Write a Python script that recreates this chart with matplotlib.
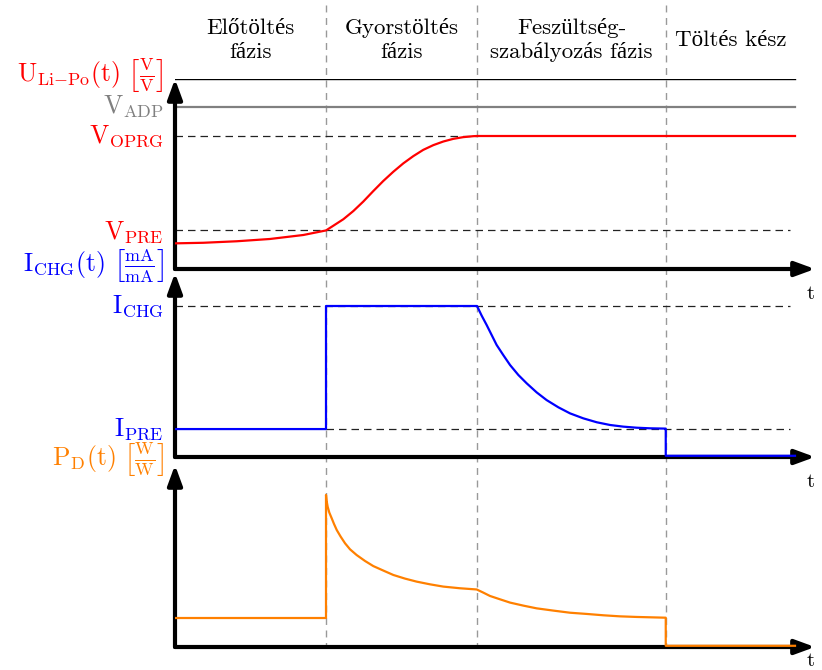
import matplotlib.pyplot as plt

plt.rcParams['mathtext.fontset'] = 'cm'
plt.rcParams['font.family'] = ['cmr10', 'Liberation Serif']

# time axis: phase boundaries and end of the traces
phase_bounds = [1.0, 2.0, 3.25]
t_end = 4.106
t_dash_end = 4.07
t_arrow = 4.238
phase_titles = ['Előtöltés\nfázis', 'Gyorstöltés\nfázis',
                'Feszültség-\nszabályozás fázis', 'Töltés kész']
phase_title_x = [0.5, 1.5, 2.625, 3.68]

# voltage panel (relative to top line)
u_top = 1.0
v_adp = 0.853
v_oprg = 0.700
v_pre = 0.203
u_t = [0.0, 0.187, 0.409, 0.629, 0.850, 1.0, 1.049, 1.115, 1.181, 1.247,
       1.313, 1.379, 1.446, 1.512, 1.578, 1.644, 1.711, 1.777, 1.843, 1.909,
       1.975, 2.0, 4.106]
u_v = [0.135, 0.138, 0.146, 0.158, 0.179, 0.203, 0.228, 0.262, 0.305, 0.355,
       0.410, 0.463, 0.512, 0.556, 0.594, 0.627, 0.652, 0.671, 0.685, 0.694,
       0.699, 0.700, 0.700]

# current panel (relative to I_CHG)
i_chg = 1.0
i_pre = 0.185
i_t = [0.0, 1.0, 1.0, 2.0, 2.002, 2.031, 2.064, 2.097, 2.130, 2.174, 2.219,
       2.274, 2.329, 2.395, 2.461, 2.539, 2.616, 2.704, 2.793, 2.881, 2.969,
       3.057, 3.146, 3.25, 3.25, 4.106]
i_v = [0.185, 0.185, 1.0, 1.0, 0.996, 0.936, 0.874, 0.808, 0.742, 0.675,
       0.609, 0.543, 0.488, 0.428, 0.377, 0.329, 0.289, 0.256, 0.230, 0.212,
       0.201, 0.194, 0.190, 0.188, 0.008, 0.008]

# power dissipation panel
p_t = [0.0, 1.0, 1.0, 1.004, 1.011, 1.022, 1.038, 1.053, 1.071, 1.097, 1.126,
       1.159, 1.203, 1.258, 1.313, 1.380, 1.446, 1.523, 1.600, 1.689, 1.777,
       1.887, 1.998, 2.042, 2.086, 2.152, 2.219, 2.307, 2.395, 2.506, 2.616,
       2.726, 2.837, 2.947, 3.057, 3.25, 3.25, 4.106]
p_v = [0.192, 0.192, 1.007, 0.969, 0.929, 0.890, 0.852, 0.815, 0.775, 0.731,
       0.687, 0.647, 0.609, 0.570, 0.536, 0.506, 0.477, 0.453, 0.433, 0.415,
       0.400, 0.389, 0.381, 0.360, 0.338, 0.316, 0.294, 0.274, 0.256, 0.241,
       0.227, 0.219, 0.210, 0.203, 0.199, 0.194, 0.008, 0.008]

RED = '#ff0000'
BLUE = '#0000ff'
ORANGE = '#ff8000'
GRAY = '#808080'

W, H = 822, 670
fig = plt.figure(figsize=(W / 100, H / 100), dpi=100)

# background axes for phase separators and titles (x in time units, y in pixels)
bg = fig.add_axes([0, 0, 1, 1])
bg.set_xlim(-175 / 151, (W - 175) / 151)
bg.set_ylim(H, 0)
bg.axis('off')
for b in phase_bounds:
    bg.plot([b, b], [5, 648], color='#999999', lw=1, dashes=(5, 4), zorder=0)
for x, s in zip(phase_title_x, phase_titles):
    bg.text(x, 40, s, ha='center', va='center', fontsize=16.5, linespacing=1.3)


def panel(bottom_px, height_px, ymax, t_off=-18):
    ax = fig.add_axes([175 / W, (H - bottom_px) / H, (W - 175) / W, height_px / H])
    ax.set_xlim(0, (W - 175) / 151)
    ax.set_ylim(0, ymax)
    ax.axis('off')
    ax.patch.set_alpha(0)
    arrow = dict(arrowstyle='-|>,head_length=0.6,head_width=0.22', lw=3,
                 color='k', shrinkA=0, shrinkB=0, mutation_scale=20)
    ax.annotate('', xy=(t_arrow, 0), xytext=(0, 0), arrowprops=arrow,
                annotation_clip=False, zorder=5)
    ax.annotate('', xy=(0, ymax), xytext=(0, 0), arrowprops=arrow,
                annotation_clip=False, zorder=5)
    ax.annotate('t', xy=(4.21, 0), xytext=(0, t_off), textcoords='offset points',
                fontsize=15, ha='center', va='center', annotation_clip=False)
    return ax


def label(ax, y, s, color, size=18.5):
    ax.text(-0.017, y, s, color=color, fontsize=size, ha='right', va='center',
            transform=ax.get_yaxis_transform())


dash = dict(color='#222222', lw=0.9, dashes=(6, 4))

# voltage
ax1 = panel(269, 190, 1.0)
ax1.plot([0, t_end], [u_top, u_top], color='k', lw=1)
ax1.plot([0, t_end], [v_adp, v_adp], color=GRAY, lw=1.6)
ax1.plot([0, 2.0], [v_oprg, v_oprg], **dash)
ax1.plot([0, t_dash_end], [v_pre, v_pre], **dash)
ax1.plot(u_t, u_v, color=RED, lw=1.6, zorder=6)
label(ax1, 1.02, r'$\mathrm{U_{Li{-}Po}(t)}\ \left[\frac{\mathrm{V}}{\mathrm{V}}\right]$', RED)
label(ax1, v_adp, r'$\mathrm{V_{ADP}}$', GRAY)
label(ax1, v_oprg, r'$\mathrm{V_{OPRG}}$', RED)
label(ax1, v_pre - 0.01, r'$\mathrm{V_{PRE}}$', RED)

# current
ax2 = panel(457, 184, 184 / 151)
ax2.plot([0, t_dash_end], [i_chg, i_chg], **dash)
ax2.plot([1.0, t_dash_end], [i_pre, i_pre], **dash)
ax2.plot(i_t, i_v, color=BLUE, lw=1.6, zorder=6)
label(ax2, 1.265, r'$\mathrm{I_{CHG}(t)}\ \left[\frac{\mathrm{mA}}{\mathrm{mA}}\right]$', BLUE)
label(ax2, i_chg, r'$\mathrm{I_{CHG}}$', BLUE)
label(ax2, i_pre, r'$\mathrm{I_{PRE}}$', BLUE)

# power
ax3 = panel(647, 182, 182 / 151, t_off=-10)
ax3.plot(p_t, p_v, color=ORANGE, lw=1.6, zorder=6)
label(ax3, 1.238, r'$\mathrm{P_D(t)}\ \left[\frac{\mathrm{W}}{\mathrm{W}}\right]$', ORANGE)

fig.savefig('out.png', dpi=100)
